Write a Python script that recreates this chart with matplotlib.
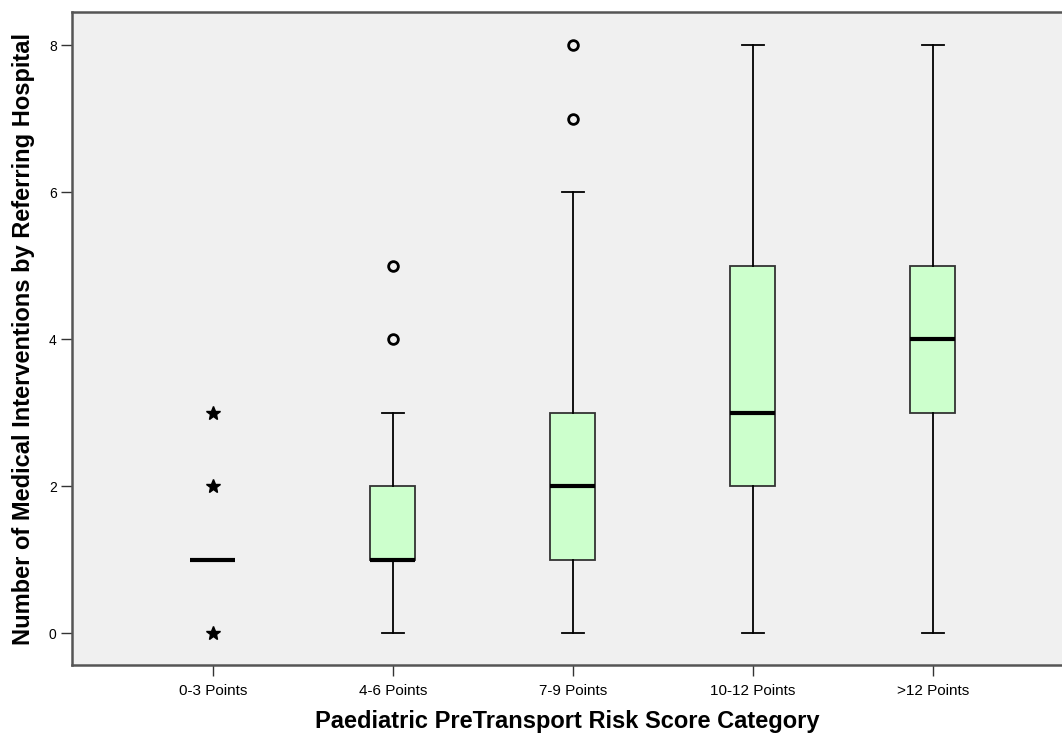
import matplotlib
matplotlib.use('Agg')
import matplotlib.pyplot as plt

categories = ['0-3 Points', '4-6 Points', '7-9 Points', '10-12 Points', '>12 Points']
q1 = [1, 1, 1, 2, 3]
medians = [1, 1, 2, 3, 4]
q3 = [1, 2, 3, 5, 5]
whisker_low = [1, 0, 0, 0, 0]
whisker_high = [1, 3, 6, 8, 8]
# SPSS: circles = outliers, stars = extremes
outliers = [[], [4, 5], [7, 8], [], []]
extremes = [[0, 2, 3], [], [], [], []]

plt.rcParams['font.family'] = ['Liberation Sans', 'DejaVu Sans']

stats = []
for i in range(len(categories)):
    stats.append(dict(med=medians[i], q1=q1[i], q3=q3[i],
                      whislo=whisker_low[i], whishi=whisker_high[i],
                      fliers=outliers[i], label=categories[i]))

fig = plt.figure(figsize=(10.62, 7.38), dpi=100)
ax = fig.add_axes([0.0678, 0.0989, 0.9322, 0.8848])
ax.set_facecolor('#f0f0f0')

pos = list(range(1, len(categories) + 1))
bp = ax.bxp(stats, positions=pos, widths=0.25, patch_artist=True,
            boxprops=dict(facecolor='#ccffcc', edgecolor='#333333', linewidth=1.3),
            medianprops=dict(color='black', linewidth=3, solid_capstyle='butt'),
            whiskerprops=dict(color='black', linewidth=1.3),
            capprops=dict(color='black', linewidth=1.3),
            capwidths=0.125,
            flierprops=dict(marker='o', markerfacecolor='none', markeredgecolor='black',
                            markeredgewidth=2, markersize=7))

for p, ext in zip(pos, extremes):
    if ext:
        ax.plot([p] * len(ext), ext, linestyle='none', marker='*', color='black',
                markersize=10)

ax.set_xlim(0.217, 5.717)
ax.set_ylim(-0.435, 8.449)
ax.set_yticks([0, 2, 4, 6, 8])
ax.set_xticks(pos)
ax.set_xticklabels(categories)
ax.tick_params(axis='both', length=8, width=1, color='#333333')
ax.tick_params(axis='x', labelsize=11, pad=6)
ax.tick_params(axis='y', labelsize=10, pad=3)

for side in ['left', 'top', 'bottom']:
    ax.spines[side].set_color('#555555')
    ax.spines[side].set_linewidth(1.8)
ax.spines['right'].set_visible(False)

ax.set_xlabel('Paediatric PreTransport Risk Score Category', fontsize=17,
              fontweight='bold', labelpad=8)
ax.set_ylabel('Number of Medical Interventions by Referring Hospital', fontsize=17,
              fontweight='bold', labelpad=10)

fig.savefig('out.png', dpi=100)
